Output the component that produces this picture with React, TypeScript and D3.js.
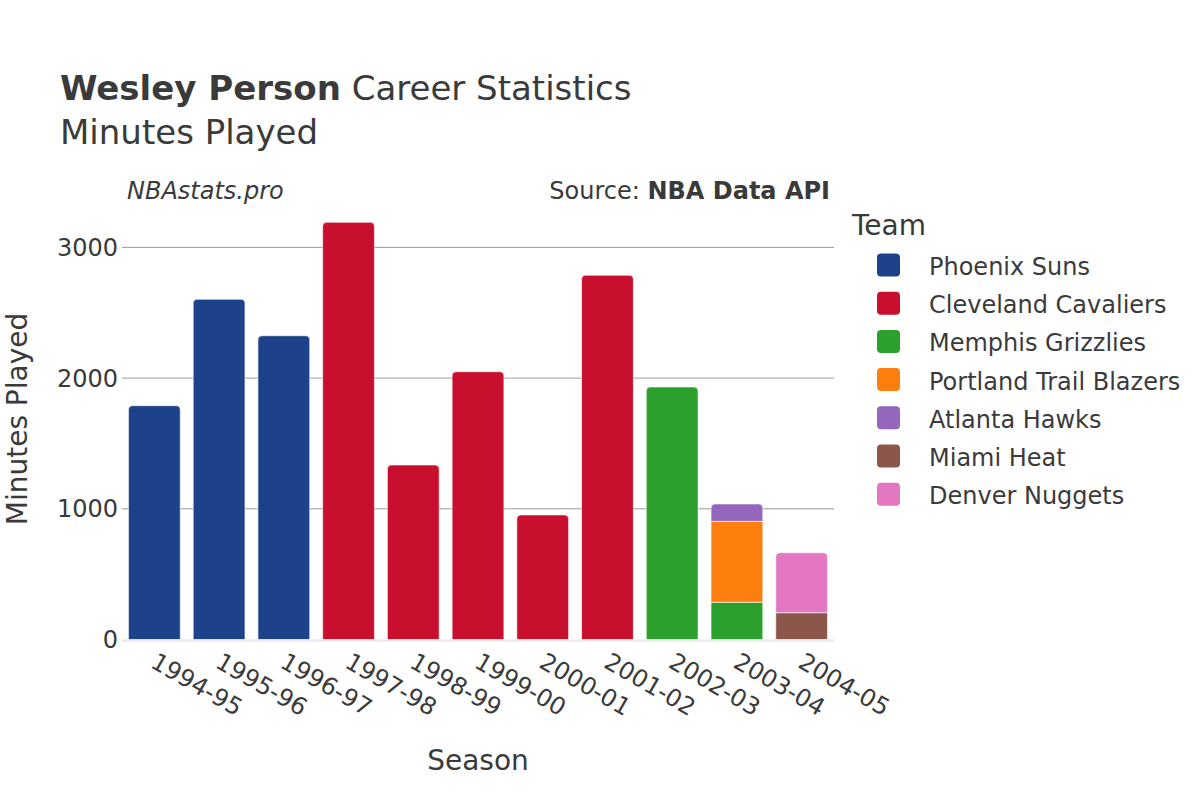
import React from "react";
import * as d3 from "d3";

const seasons = ["1994-95","1995-96","1996-97","1997-98","1998-99","1999-00","2000-01","2001-02","2002-03","2003-04","2004-05"];
const teams = ["Phoenix Suns","Cleveland Cavaliers","Memphis Grizzlies","Portland Trail Blazers","Atlanta Hawks","Miami Heat","Denver Nuggets"];
const teamColors = ["#1d428a","#c8102e","#2ca02c","#ff7f0e","#9467bd","#8c564b","#e377c2"];

const phoenix = [1789,2603,2324,0,0,0,0,0,0,0,0];
const cleveland = [0,0,0,3192,1335,2049,953,2787,0,0,0];
const memphis = [0,0,0,0,0,0,0,0,1932,285,0];
const portland = [0,0,0,0,0,0,0,0,0,619,0];
const atlanta = [0,0,0,0,0,0,0,0,0,133,0];
const miami = [0,0,0,0,0,0,0,0,0,0,205];
const denver = [0,0,0,0,0,0,0,0,0,0,459];
const series = [phoenix, cleveland, memphis, portland, atlanta, miami, denver];

const yTicks = [0,1000,2000,3000];

const FONT = "'DejaVu Sans', sans-serif";
const TXT = "#3a3a3a";

export default function App() {
  const W = 1200, H = 800;
  const left = 122, right = 834, bottom = 639.5;
  const x = d3.scaleBand<string>().domain(seasons).range([left, right]).paddingInner(0.2).paddingOuter(0.1);
  const yMax = 3400;
  const y = d3.scaleLinear().domain([0, yMax]).range([bottom, bottom - yMax * 0.1307]);

  const rows = seasons.map((s, i) => {
    const r: any = { season: s };
    teams.forEach((t, j) => (r[t] = series[j][i]));
    return r;
  });
  const stacked = d3.stack<any>().keys(teams)(rows);

  const topIdx = seasons.map((_, i) => {
    let k = -1;
    series.forEach((arr, j) => { if (arr[i] > 0) k = j; });
    return k;
  });

  const rad = 4;
  const segPath = (x0: number, w: number, y0: number, y1: number, rounded: boolean) => {
    if (!rounded) return `M${x0},${y0}V${y1}H${x0 + w}V${y0}Z`;
    const r = Math.min(rad, (y0 - y1) / 2, w / 2);
    return `M${x0},${y0}V${y1 + r}Q${x0},${y1} ${x0 + r},${y1}H${x0 + w - r}Q${x0 + w},${y1} ${x0 + w},${y1 + r}V${y0}Z`;
  };

  return (
    <svg width={W} height={H} style={{ display: "block", position: "absolute", left: 0, top: 0 }} fontFamily={FONT}>
      <rect width={W} height={H} fill="#fff" />
      <text x={60} y={100} fontSize={34} fill={TXT}>
        <tspan fontWeight="bold">Wesley Person</tspan> Career Statistics
      </text>
      <text x={60} y={144} fontSize={34} fill={TXT}>Minutes Played</text>
      <text x={127} y={199} fontSize={24} fontStyle="italic" fill={TXT}>NBAstats.pro</text>
      <text x={830} y={199} fontSize={24} textAnchor="end" fill={TXT}>
        Source: <tspan fontWeight="bold">NBA Data API</tspan>
      </text>

      {yTicks.filter(t => t > 0).map(t => (
        <line key={t} x1={left} x2={right} y1={y(t)} y2={y(t)} stroke="#9a9a9a" strokeWidth={1} />
      ))}
      {yTicks.map(t => (
        <text key={t} x={118} y={y(t) + 8.5} fontSize={24} textAnchor="end" fill={TXT}>{t}</text>
      ))}

      {stacked.map((layer, j) => (
        <g key={teams[j]}>
          {layer.map((d, i) => {
            if (d[1] - d[0] <= 0) return null;
            const x0 = x(seasons[i])!;
            return (
              <path key={i} d={segPath(x0, x.bandwidth(), y(d[0]), y(d[1]), topIdx[i] === j)}
                fill={teamColors[j]} stroke="#fff" strokeOpacity={0.6} strokeWidth={1} />
            );
          })}
        </g>
      ))}
      <line x1={left} x2={right} y1={bottom + 1} y2={bottom + 1} stroke="#e8e8e8" strokeWidth={2} />

      {seasons.map(s => {
        const cx = x(s)! + x.bandwidth() / 2;
        return (
          <text key={s} transform={`translate(${cx - 5},${bottom + 27}) rotate(30)`} fontSize={24} fill={TXT}>{s}</text>
        );
      })}

      <text x={478} y={770} fontSize={28} textAnchor="middle" fill={TXT}>Season</text>
      <text transform={`translate(27,419) rotate(-90)`} fontSize={28} textAnchor="middle" fill={TXT}>Minutes Played</text>

      <text x={852} y={235} fontSize={28} fill={TXT}>Team</text>
      {teams.map((t, j) => (
        <g key={t} transform={`translate(0,${265 + j * 38.2})`}>
          <rect x={877} y={-11.5} width={23} height={23} rx={4} fill={teamColors[j]} />
          <text x={929} y={10} fontSize={24} fill={TXT}>{t}</text>
        </g>
      ))}
    </svg>
  );
}
